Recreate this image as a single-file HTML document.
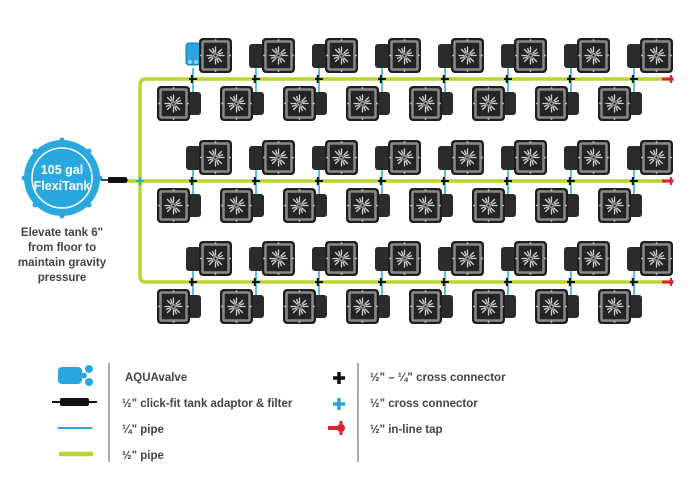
<!DOCTYPE html>
<html><head><meta charset="utf-8"><style>
html,body{margin:0;padding:0;background:#fff;}
svg{display:block;}
text{font-family:"Liberation Sans",sans-serif;fill:#444;font-weight:bold;}
</style></head><body>
<svg width="700" height="500" viewBox="0 0 700 500" xmlns="http://www.w3.org/2000/svg">
<defs>
<g id="fl">
  <g stroke="#d0d0d0" stroke-width="1.3" stroke-linecap="round">
    <line x1="0" y1="-3.5" x2="0" y2="-8.5"/><line x1="0" y1="3.5" x2="0" y2="8.5"/>
    <line x1="-3.5" y1="0" x2="-8.5" y2="0"/><line x1="3.5" y1="0" x2="8.5" y2="0"/>
    <line x1="2.5" y1="2.5" x2="6" y2="6"/><line x1="-2.5" y1="-2.5" x2="-6" y2="-6"/>
    <line x1="2.5" y1="-2.5" x2="6" y2="-6"/><line x1="-2.5" y1="2.5" x2="-6" y2="6"/>
    <line x1="1.3" y1="3.2" x2="2.8" y2="7"/><line x1="-1.3" y1="-3.2" x2="-2.8" y2="-7"/>
    <line x1="3.2" y1="-1.3" x2="7" y2="-2.8"/><line x1="-3.2" y1="1.3" x2="-7" y2="2.8"/>
  </g>
  <circle r="1.8" fill="none" stroke="#d0d0d0" stroke-width="1"/>
</g>
<g id="sq">
  <rect x="0" y="0" width="33" height="35" rx="4" fill="#1e1e1e"/>
  <rect x="3.5" y="3.5" width="26" height="28" rx="1" fill="#242424" stroke="#8a8a8a" stroke-width="2.5"/>
  <use href="#fl" x="16.5" y="17.5"/>
  <circle cx="16.5" cy="2" r="0.9" fill="#ccc"/><circle cx="16.5" cy="33" r="0.9" fill="#ccc"/>
  <circle cx="2" cy="17.5" r="0.9" fill="#ccc"/><circle cx="31" cy="17.5" r="0.9" fill="#ccc"/>
</g>
<g id="bot">
  <rect x="-9" y="13" width="17" height="23" rx="3" fill="#2b2b2b"/>
  <use href="#sq" x="-36" y="7"/>
  <line x1="0" y1="-11" x2="0" y2="13" stroke="#2aa7d6" stroke-width="1.5"/>
</g>
<g id="cross">
  <path d="M-1.2,-4V4M-4,0H4" stroke="#111" stroke-width="2"/>
</g>
<g id="pair">
  <rect x="-7" y="-35" width="15" height="24" rx="3" fill="#2b2b2b"/>
  <use href="#sq" x="6" y="-41"/>
  <use href="#bot"/>
  <use href="#cross"/>
</g>
<g id="pairv">
  <rect x="-7" y="-36" width="14" height="22" rx="3" fill="#29a8e0" stroke="#1a6fa0" stroke-width="1"/>
  <circle cx="-3" cy="-17" r="2" fill="#8fd6f5"/><circle cx="3" cy="-17" r="2" fill="#8fd6f5"/>
  <use href="#sq" x="6" y="-41"/>
  <use href="#bot"/>
  <use href="#cross"/>
</g>
<g id="tap">
  <path d="M-6,0H4" stroke="#d8262c" stroke-width="3"/>
  <circle cx="3" cy="0" r="2.5" fill="#d8262c"/>
  <path d="M3,-4V4" stroke="#d8262c" stroke-width="2"/>
</g>
</defs>

<path d="M668,79H146Q140,79 140,85V276Q140,282 146,282H668" fill="none" stroke="#b9d532" stroke-width="3.5"/>
<path d="M126,181H668" stroke="#b9d532" stroke-width="3.5"/>
<use href="#tap" x="668" y="79"/><use href="#tap" x="668" y="181"/><use href="#tap" x="668" y="282"/>

<g transform="translate(0,79)">
<use href="#pairv" x="193"/><use href="#pair" x="256"/><use href="#pair" x="319"/><use href="#pair" x="382"/>
<use href="#pair" x="445"/><use href="#pair" x="508"/><use href="#pair" x="571"/><use href="#pair" x="634"/>
</g>
<g transform="translate(0,181)">
<use href="#pair" x="193"/><use href="#pair" x="256"/><use href="#pair" x="319"/><use href="#pair" x="382"/>
<use href="#pair" x="445"/><use href="#pair" x="508"/><use href="#pair" x="571"/><use href="#pair" x="634"/>
</g>
<g transform="translate(0,282)">
<use href="#pair" x="193"/><use href="#pair" x="256"/><use href="#pair" x="319"/><use href="#pair" x="382"/>
<use href="#pair" x="445"/><use href="#pair" x="508"/><use href="#pair" x="571"/><use href="#pair" x="634"/>
</g>

<path d="M140,177V185M136,181H144" stroke="#2aa7d6" stroke-width="2"/>

<circle cx="62" cy="178" r="38" fill="#29a8e0"/>
<circle cx="62" cy="178" r="30" fill="none" stroke="#fff" stroke-width="1.5"/>
<g fill="#29a8e0"><circle cx="24" cy="178" r="2.5"/><circle cx="100" cy="178" r="2.5"/><circle cx="62" cy="140" r="2.5"/><circle cx="62" cy="216" r="2.5"/><circle cx="35" cy="151" r="2.5"/><circle cx="89" cy="151" r="2.5"/><circle cx="35" cy="205" r="2.5"/><circle cx="89" cy="205" r="2.5"/></g>
<text x="62" y="174" text-anchor="middle" font-size="12.5" style="fill:#fff">105 gal</text>
<text x="62" y="190" text-anchor="middle" font-size="12.5" style="fill:#fff">FlexiTank</text>
<path d="M101,180H128" stroke="#111" stroke-width="1.5"/>
<rect x="108" y="177" width="19" height="6" rx="1.5" fill="#111"/>

<g font-size="11.5" text-anchor="middle">
<text x="62" y="236">Elevate tank 6"</text>
<text x="62" y="251">from floor to</text>
<text x="62" y="266">maintain gravity</text>
<text x="62" y="281">pressure</text>
</g>

<line x1="109" y1="363" x2="109" y2="462" stroke="#555" stroke-width="1"/>
<line x1="358" y1="363" x2="358" y2="462" stroke="#555" stroke-width="1"/>
<rect x="58" y="367" width="24" height="17" rx="4" fill="#29a8e0"/>
<circle cx="89" cy="369" r="4" fill="#29a8e0"/><circle cx="89" cy="382" r="4" fill="#29a8e0"/><circle cx="84" cy="375.5" r="3" fill="#29a8e0"/>
<path d="M52,402H97" stroke="#111" stroke-width="2"/>
<rect x="60" y="398" width="29" height="8" rx="2" fill="#111"/>
<path d="M58,428H92" stroke="#2aa7d6" stroke-width="2"/>
<path d="M59,454H93" stroke="#b9d532" stroke-width="4.5"/>
<g font-size="11.5">
<text x="125" y="381">AQUAvalve</text>
<text x="122" y="407">½" click-fit tank adaptor &amp; filter</text>
<text x="122" y="433">¼" pipe</text>
<text x="122" y="459">½" pipe</text>
<text x="370" y="381">½" – ¼" cross connector</text>
<text x="370" y="407">½" cross connector</text>
<text x="370" y="433">½" in-line tap</text>
</g>
<path d="M339,372V384M333,378H345" stroke="#111" stroke-width="3.5"/>
<path d="M339,398V410M333,404H345" stroke="#2aa7d6" stroke-width="3.5"/>
<path d="M328,428H342" stroke="#d8262c" stroke-width="4"/><circle cx="341" cy="428" r="4" fill="#d8262c"/><path d="M341,421V435" stroke="#d8262c" stroke-width="3"/>
</svg>
</body></html>
